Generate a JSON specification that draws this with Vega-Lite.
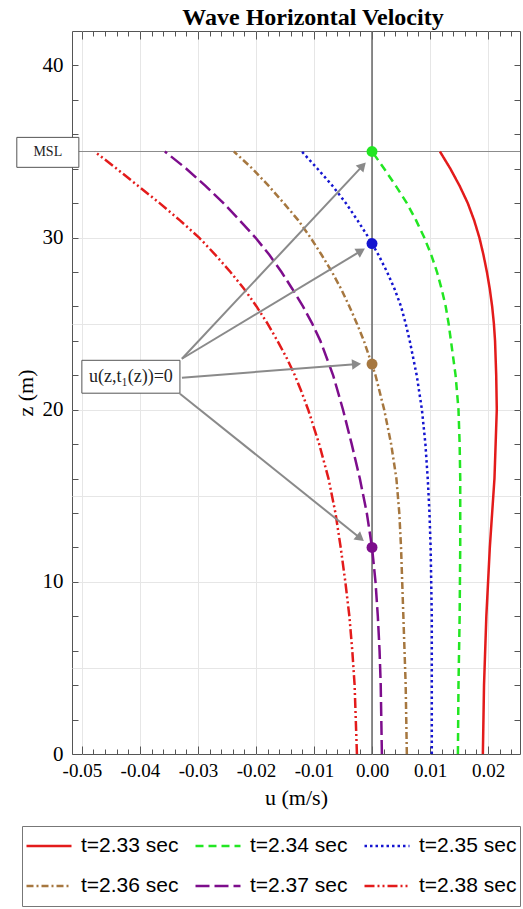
{
"$schema":"https://vega.github.io/schema/vega-lite/v6.json",
"width":448,"height":723,
"autosize":{"type":"none"},
"padding":{"left":72,"top":31,"right":3,"bottom":155},
"background":"white",
"title":{"text":"Wave Horizontal Velocity","font":"Liberation Serif","fontSize":24,"fontWeight":"bold","color":"#000","anchor":"middle","dx":17,"dy":9,"baseline":"alphabetic","offset":-10},
"config":{"view":{"stroke":"#555","strokeWidth":1},"font":"Liberation Serif","axis":{"domain":false}},
"datasets":{
"curves":[
{"series":"t=2.33 sec","z":35,"u":0.0117},{"series":"t=2.33 sec","z":34,"u":0.0135},{"series":"t=2.33 sec","z":33,"u":0.0151},{"series":"t=2.33 sec","z":32,"u":0.0165},{"series":"t=2.33 sec","z":31,"u":0.0176},{"series":"t=2.33 sec","z":30,"u":0.0185},{"series":"t=2.33 sec","z":29,"u":0.0192},{"series":"t=2.33 sec","z":28,"u":0.0198},{"series":"t=2.33 sec","z":27,"u":0.0203},{"series":"t=2.33 sec","z":26,"u":0.0207},{"series":"t=2.33 sec","z":25,"u":0.021},{"series":"t=2.33 sec","z":24,"u":0.0212},{"series":"t=2.33 sec","z":22,"u":0.0214},{"series":"t=2.33 sec","z":20,"u":0.0215},{"series":"t=2.33 sec","z":18,"u":0.0213},{"series":"t=2.33 sec","z":16,"u":0.0211},{"series":"t=2.33 sec","z":14,"u":0.0207},{"series":"t=2.33 sec","z":12,"u":0.0203},{"series":"t=2.33 sec","z":10,"u":0.02},{"series":"t=2.33 sec","z":8,"u":0.0197},{"series":"t=2.33 sec","z":6,"u":0.0195},{"series":"t=2.33 sec","z":4,"u":0.0193},{"series":"t=2.33 sec","z":2,"u":0.0192},{"series":"t=2.33 sec","z":0,"u":0.0191},
{"series":"t=2.34 sec","z":35,"u":0},{"series":"t=2.34 sec","z":34,"u":0.0021},{"series":"t=2.34 sec","z":33,"u":0.0041},{"series":"t=2.34 sec","z":32,"u":0.006},{"series":"t=2.34 sec","z":31,"u":0.0076},{"series":"t=2.34 sec","z":30,"u":0.009},{"series":"t=2.34 sec","z":29,"u":0.0102},{"series":"t=2.34 sec","z":28,"u":0.0112},{"series":"t=2.34 sec","z":27,"u":0.012},{"series":"t=2.34 sec","z":26,"u":0.0127},{"series":"t=2.34 sec","z":25,"u":0.0132},{"series":"t=2.34 sec","z":24,"u":0.0136},{"series":"t=2.34 sec","z":22,"u":0.0144},{"series":"t=2.34 sec","z":20,"u":0.0149},{"series":"t=2.34 sec","z":18,"u":0.0151},{"series":"t=2.34 sec","z":16,"u":0.0152},{"series":"t=2.34 sec","z":12,"u":0.0152},{"series":"t=2.34 sec","z":8,"u":0.0151},{"series":"t=2.34 sec","z":4,"u":0.0149},{"series":"t=2.34 sec","z":0,"u":0.0148},
{"series":"t=2.35 sec","z":35,"u":-0.0121},{"series":"t=2.35 sec","z":34,"u":-0.0094},{"series":"t=2.35 sec","z":33,"u":-0.0068},{"series":"t=2.35 sec","z":32,"u":-0.0045},{"series":"t=2.35 sec","z":31,"u":-0.0025},{"series":"t=2.35 sec","z":30,"u":-0.0006},{"series":"t=2.35 sec","z":29,"u":0.0011},{"series":"t=2.35 sec","z":28,"u":0.0026},{"series":"t=2.35 sec","z":27,"u":0.0039},{"series":"t=2.35 sec","z":26,"u":0.005},{"series":"t=2.35 sec","z":25,"u":0.0058},{"series":"t=2.35 sec","z":24,"u":0.0065},{"series":"t=2.35 sec","z":22,"u":0.0077},{"series":"t=2.35 sec","z":20,"u":0.0086},{"series":"t=2.35 sec","z":18,"u":0.0092},{"series":"t=2.35 sec","z":16,"u":0.0096},{"series":"t=2.35 sec","z":14,"u":0.0099},{"series":"t=2.35 sec","z":12,"u":0.0101},{"series":"t=2.35 sec","z":10,"u":0.0102},{"series":"t=2.35 sec","z":8,"u":0.0103},{"series":"t=2.35 sec","z":4,"u":0.0103},{"series":"t=2.35 sec","z":0,"u":0.0103},
{"series":"t=2.36 sec","z":35,"u":-0.0238},{"series":"t=2.36 sec","z":34,"u":-0.0206},{"series":"t=2.36 sec","z":33,"u":-0.0178},{"series":"t=2.36 sec","z":32,"u":-0.0152},{"series":"t=2.36 sec","z":31,"u":-0.0127},{"series":"t=2.36 sec","z":30,"u":-0.0106},{"series":"t=2.36 sec","z":29,"u":-0.0087},{"series":"t=2.36 sec","z":28,"u":-0.0069},{"series":"t=2.36 sec","z":27,"u":-0.0053},{"series":"t=2.36 sec","z":26,"u":-0.0039},{"series":"t=2.36 sec","z":25,"u":-0.0026},{"series":"t=2.36 sec","z":24,"u":-0.0014},{"series":"t=2.36 sec","z":22,"u":0.0006},{"series":"t=2.36 sec","z":20,"u":0.0021},{"series":"t=2.36 sec","z":18,"u":0.0033},{"series":"t=2.36 sec","z":16,"u":0.0042},{"series":"t=2.36 sec","z":14,"u":0.0047},{"series":"t=2.36 sec","z":12,"u":0.005},{"series":"t=2.36 sec","z":10,"u":0.0052},{"series":"t=2.36 sec","z":8,"u":0.0054},{"series":"t=2.36 sec","z":6,"u":0.0056},{"series":"t=2.36 sec","z":4,"u":0.0058},{"series":"t=2.36 sec","z":2,"u":0.0059},{"series":"t=2.36 sec","z":0,"u":0.006},
{"series":"t=2.37 sec","z":35,"u":-0.0357},{"series":"t=2.37 sec","z":34,"u":-0.032},{"series":"t=2.37 sec","z":33,"u":-0.0287},{"series":"t=2.37 sec","z":32,"u":-0.0256},{"series":"t=2.37 sec","z":31,"u":-0.0228},{"series":"t=2.37 sec","z":30,"u":-0.0201},{"series":"t=2.37 sec","z":29,"u":-0.0177},{"series":"t=2.37 sec","z":28,"u":-0.0156},{"series":"t=2.37 sec","z":27,"u":-0.0137},{"series":"t=2.37 sec","z":26,"u":-0.0119},{"series":"t=2.37 sec","z":25,"u":-0.0103},{"series":"t=2.37 sec","z":24,"u":-0.0089},{"series":"t=2.37 sec","z":22,"u":-0.0067},{"series":"t=2.37 sec","z":20,"u":-0.0050},{"series":"t=2.37 sec","z":18,"u":-0.0035},{"series":"t=2.37 sec","z":16,"u":-0.0021},{"series":"t=2.37 sec","z":14,"u":-0.0009},{"series":"t=2.37 sec","z":12,"u":0},{"series":"t=2.37 sec","z":10,"u":0.0006},{"series":"t=2.37 sec","z":8,"u":0.001},{"series":"t=2.37 sec","z":6,"u":0.0013},{"series":"t=2.37 sec","z":4,"u":0.0015},{"series":"t=2.37 sec","z":2,"u":0.0016},{"series":"t=2.37 sec","z":0,"u":0.0017},
{"series":"t=2.38 sec","z":35,"u":-0.0478},{"series":"t=2.38 sec","z":34,"u":-0.044},{"series":"t=2.38 sec","z":33,"u":-0.0403},{"series":"t=2.38 sec","z":32,"u":-0.0366},{"series":"t=2.38 sec","z":31,"u":-0.0331},{"series":"t=2.38 sec","z":30,"u":-0.0298},{"series":"t=2.38 sec","z":29,"u":-0.027},{"series":"t=2.38 sec","z":28,"u":-0.0244},{"series":"t=2.38 sec","z":27,"u":-0.022},{"series":"t=2.38 sec","z":26,"u":-0.0199},{"series":"t=2.38 sec","z":25,"u":-0.018},{"series":"t=2.38 sec","z":24,"u":-0.0163},{"series":"t=2.38 sec","z":23,"u":-0.0147},{"series":"t=2.38 sec","z":22,"u":-0.0133},{"series":"t=2.38 sec","z":21,"u":-0.0121},{"series":"t=2.38 sec","z":20,"u":-0.011},{"series":"t=2.38 sec","z":18,"u":-0.0091},{"series":"t=2.38 sec","z":16,"u":-0.0075},{"series":"t=2.38 sec","z":14,"u":-0.0063},{"series":"t=2.38 sec","z":12,"u":-0.0054},{"series":"t=2.38 sec","z":10,"u":-0.0046},{"series":"t=2.38 sec","z":8,"u":-0.0039},{"series":"t=2.38 sec","z":6,"u":-0.0034},{"series":"t=2.38 sec","z":4,"u":-0.003},{"series":"t=2.38 sec","z":2,"u":-0.0028},{"series":"t=2.38 sec","z":0,"u":-0.0026}
],
"zeros":[{"u":0,"z":35,"series":"t=2.34 sec"},{"u":0,"z":29.65,"series":"t=2.35 sec"},{"u":0,"z":22.65,"series":"t=2.36 sec"},{"u":0,"z":12.0,"series":"t=2.37 sec"}],
"arrows":[{"u1":-0.03276,"z1":22.96,"u2":-0.00179,"z2":34.11,"dir":43},{"u1":-0.03276,"z1":22.96,"u2":-0.00212,"z2":29.18,"dir":59},{"u1":-0.03276,"z1":21.86,"u2":-0.00293,"z2":22.64,"dir":86},{"u1":-0.0331,"z1":20.93,"u2":-0.00222,"z2":12.59,"dir":129}],
"boxes":[{"u1":-0.06121,"u2":-0.05052,"z1":35.82,"z2":34.08},{"u1":-0.05,"u2":-0.0331,"z1":22.87,"z2":20.96}],
"msllabel":[{"u":-0.05587,"z":35,"label":"MSL"}],
"annlabel":[{"u":-0.04155,"z":21.92,"label":"u(z,t₁(z))=0"}],
"refs":[{"u":0}],
"msl":[{"z":35}]
},
"layer":[
{"data":{"name":"msl"},"mark":{"type":"rule","color":"#8c8c8c","strokeWidth":1},
 "encoding":{"y":{"field":"z","type":"quantitative","scale":{"domain":[0,42],"nice":false,"zero":false},"axis":null}}},
{"data":{"name":"refs"},"mark":{"type":"rule","color":"#666","strokeWidth":1.5},
 "encoding":{"x":{"field":"u","type":"quantitative","scale":{"domain":[-0.0517,0.0255],"nice":false,"zero":false},
   "axis":{"orient":"top","values":[-0.05,-0.04,-0.03,-0.02,-0.01,0,0.01,0.02],"labels":false,"title":null,"grid":false,"ticks":true,"tickSize":-8,"tickColor":"#555","tickWidth":1}}}},
{"data":{"name":"curves"},"mark":{"type":"line","strokeWidth":2.5,"strokeCap":"butt"},
 "encoding":{
  "x":{"field":"u","type":"quantitative","scale":{"domain":[-0.0517,0.0255],"nice":false,"zero":false},
   "axis":{"orient":"bottom","values":[-0.05,-0.04,-0.03,-0.02,-0.01,0,0.01,0.02],"labelExpr":"replace(format(datum.value,'.2f'),'\u2212','-')","labelFont":"Liberation Serif","labelFontSize":19,"labelColor":"#000","labelPadding":15,"labelFlush":false,"labelOverlap":false,"tickSize":-8,"tickColor":"#555","grid":true,"gridColor":"#e6e6e6","title":"u (m/s)","titleFont":"Liberation Serif","titleFontSize":22,"titleFontWeight":"normal","titleColor":"#000","titlePadding":7}},
  "y":{"field":"z","type":"quantitative","scale":{"domain":[0,42],"nice":false,"zero":false},
   "axis":{"orient":"left","values":[0,2,4,6,8,10,12,14,16,18,20,22,24,26,28,30,32,34,36,38,40],"labelExpr":"datum.value % 10 === 0 ? format(datum.value,'d') : ''","labelFont":"Liberation Serif","labelFontSize":21,"labelColor":"#000","labelPadding":15,"labelOverlap":false,"tickSize":-6,"tickColor":"#555","grid":false,"title":"z (m)","titleFont":"Liberation Serif","titleFontSize":22,"titleFontWeight":"normal","titleColor":"#000","titlePadding":5}},
  "order":{"field":"z","type":"quantitative"},
  "color":{"field":"series","type":"nominal","scale":{"domain":["t=2.33 sec","t=2.34 sec","t=2.35 sec","t=2.36 sec","t=2.37 sec","t=2.38 sec"],"range":["#e31b1b","#22e622","#1414d0","#a6773f","#7d0d8c","#e31b1b"]},
   "legend":{"orient":"none","legendX":-50,"legendY":795,"direction":"horizontal","columns":3,"title":null,"symbolType":"stroke","symbolSize":2025,"symbolStrokeWidth":2.5,"labelFont":"Liberation Sans","labelFontSize":21,"labelColor":"#000","labelOffset":8,"columnPadding":15,"rowPadding":6,"clipHeight":34,"padding":3,"strokeColor":"#777","fillColor":"#fff","labelLimit":0}},
  "strokeDash":{"field":"series","type":"nominal","scale":{"domain":["t=2.33 sec","t=2.34 sec","t=2.35 sec","t=2.36 sec","t=2.37 sec","t=2.38 sec"],"range":[[1,0],[8,5],[2.5,3],[7,3,2,3],[14,5],[10,3,2,3,2,3]]}}
 }},
{"data":{"name":"arrows"},"mark":{"type":"rule","color":"#8a8a8a","strokeWidth":2},
 "encoding":{"x":{"field":"u1","type":"quantitative","scale":{"domain":[-0.0517,0.0255],"nice":false,"zero":false},"axis":null},"x2":{"field":"u2"},
  "y":{"field":"z1","type":"quantitative","scale":{"domain":[0,42],"nice":false,"zero":false},"axis":null},"y2":{"field":"z2"}}},
{"data":{"name":"arrows"},"mark":{"type":"point","shape":"triangle","filled":true,"color":"#8a8a8a","opacity":1,"size":110},
 "encoding":{"x":{"field":"u2","type":"quantitative","scale":{"domain":[-0.0517,0.0255],"nice":false,"zero":false},
   "axis":{"orient":"bottom","values":[-0.048,-0.046,-0.044,-0.042,-0.038,-0.036,-0.034,-0.032,-0.028,-0.026,-0.024,-0.022,-0.018,-0.016,-0.014,-0.012,-0.008,-0.006,-0.004,-0.002,0.002,0.004,0.006,0.008,0.012,0.014,0.016,0.018,0.022,0.024],"labels":false,"title":null,"grid":false,"tickSize":-5,"tickColor":"#555"}},
  "y":{"field":"z2","type":"quantitative","scale":{"domain":[0,42],"nice":false,"zero":false},
   "axis":{"orient":"left","values":[5,10,15,20,25,30],"labels":false,"ticks":false,"title":null,"grid":true,"gridColor":"#e6e6e6"}},
  "angle":{"field":"dir","type":"quantitative","scale":null}}},
{"data":{"name":"zeros"},"mark":{"type":"circle","opacity":1,"size":120},
 "encoding":{"x":{"field":"u","type":"quantitative","scale":{"domain":[-0.0517,0.0255],"nice":false,"zero":false},
   "axis":{"orient":"top","values":[-0.048,-0.046,-0.044,-0.042,-0.038,-0.036,-0.034,-0.032,-0.028,-0.026,-0.024,-0.022,-0.018,-0.016,-0.014,-0.012,-0.008,-0.006,-0.004,-0.002,0.002,0.004,0.006,0.008,0.012,0.014,0.016,0.018,0.022,0.024],"labels":false,"title":null,"grid":false,"tickSize":-5,"tickColor":"#555"}},
  "y":{"field":"z","type":"quantitative","scale":{"domain":[0,42],"nice":false,"zero":false},
   "axis":{"orient":"right","values":[2,4,6,8,10,12,14,16,18,20,22,24,26,28,30,32,34,36,38,40],"labels":false,"title":null,"grid":false,"tickSize":-6,"tickColor":"#555"}},
  "color":{"field":"series","type":"nominal","legend":null}}},
{"data":{"name":"boxes"},"mark":{"type":"rect","fill":"#fff","stroke":"#555","strokeWidth":1},
 "encoding":{"x":{"field":"u1","type":"quantitative","scale":{"domain":[-0.0517,0.0255],"nice":false,"zero":false},"axis":null},"x2":{"field":"u2"},
  "y":{"field":"z1","type":"quantitative","scale":{"domain":[0,42],"nice":false,"zero":false},"axis":null},"y2":{"field":"z2"}}},
{"data":{"name":"msllabel"},"mark":{"type":"text","font":"Liberation Serif","fontSize":14,"color":"#222","align":"center","baseline":"middle"},
 "encoding":{"x":{"field":"u","type":"quantitative","scale":{"domain":[-0.0517,0.0255],"nice":false,"zero":false},"axis":null},
  "y":{"field":"z","type":"quantitative","scale":{"domain":[0,42],"nice":false,"zero":false},"axis":null},"text":{"field":"label"}}},
{"data":{"name":"annlabel"},"mark":{"type":"text","font":"Liberation Serif","fontSize":18,"color":"#222","align":"center","baseline":"middle"},
 "encoding":{"x":{"field":"u","type":"quantitative","scale":{"domain":[-0.0517,0.0255],"nice":false,"zero":false},"axis":null},
  "y":{"field":"z","type":"quantitative","scale":{"domain":[0,42],"nice":false,"zero":false},"axis":null},"text":{"field":"label"}}}
],
"resolve":{"axis":{"x":"independent","y":"independent"}}
}
